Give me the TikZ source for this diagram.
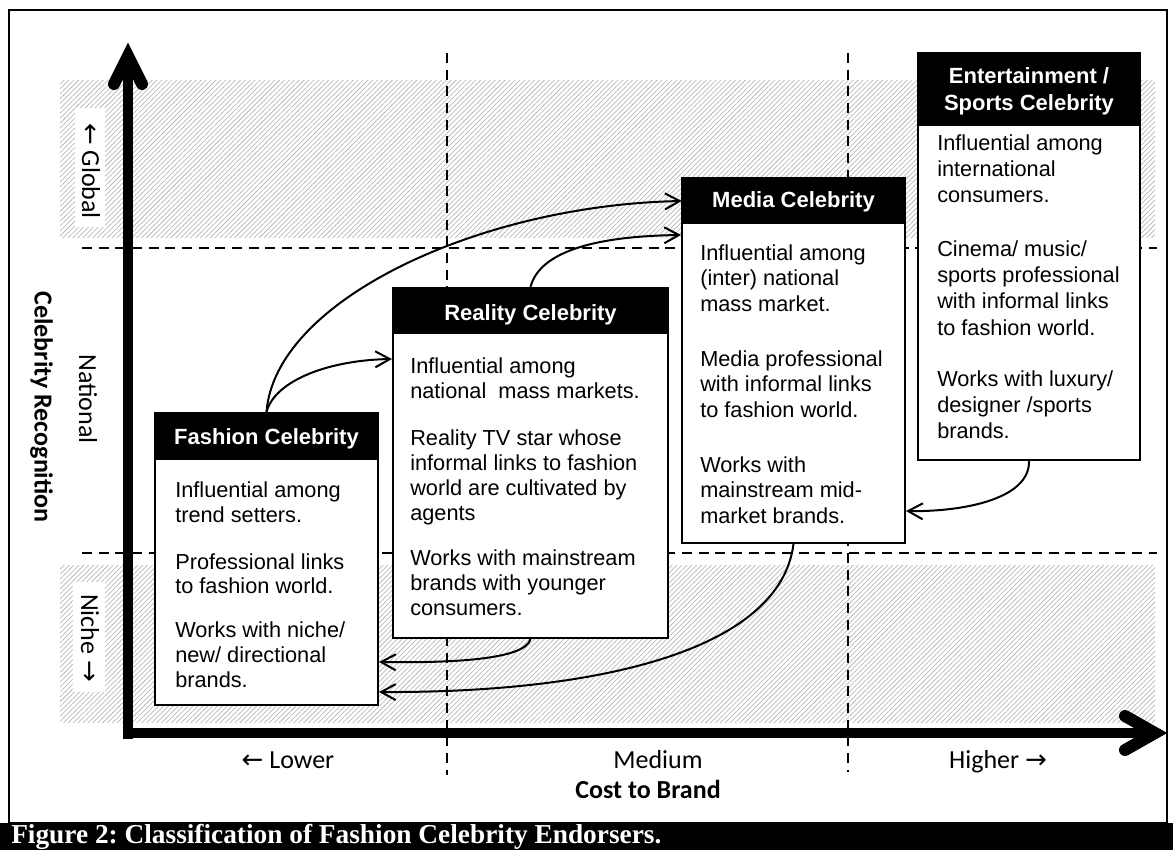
\documentclass[tikz,border=0pt]{standalone}
\usepackage{fontspec}
\setmainfont{Liberation Sans}
\newfontfamily\calfont{Carlito}
\newfontfamily\timesfont{Liberation Serif}
\newfontfamily\arrfont{DejaVu Sans}
\usetikzlibrary{arrows.meta,patterns.meta,fit,calc}
\frenchspacing
\begin{document}
\begin{tikzpicture}[x=0.75pt,y=-0.75pt,
  band/.style={pattern={Lines[angle=45,distance=2.6pt,line width=0.55pt]},pattern color=black!28},
  dline/.style={dash pattern=on 7.5pt off 5pt,line width=1.5pt},
  axisline/.style={line width=7.5pt},
  chev/.style={line width=9pt,line cap=round,line join=miter},
  cbox/.style={draw,line width=1.5pt,fill=white,inner sep=0pt},
  hdr/.style={fill=black,inner sep=0pt},
  htext/.style={text=white,font=\bfseries\fontsize{16.5pt}{20pt}\selectfont,inner sep=0pt},
  body/.style={align=left,inner sep=0pt,anchor=north west},
  link/.style={line width=1.5pt,-{Straight Barb[length=11pt,width=12pt]}},
  axlabel/.style={font=\calfont\fontsize{19.5pt}{23pt}\selectfont,inner sep=0pt},
  axbold/.style={font=\calfont\bfseries\fontsize{19.5pt}{23pt}\selectfont,inner sep=0pt}]
\useasboundingbox (0,0) rectangle (1173,850);

% hatched bands
\path[band] (60,80) rectangle (1155,237);
\path[band] (60,565) rectangle (1155,722);
\fill[white] (75,108) rectangle (105,227);
\fill[white] (73,582) rectangle (105,692);

% frame and caption bar
\draw[line width=1pt] (9,10) rectangle (1167,823);
\fill[black] (0,823) rectangle (1173,850);
\node[anchor=base west,text=white,font=\timesfont\bfseries\fontsize{20.5pt}{24pt}\selectfont,inner sep=0pt] (cap) at (11,843) {Figure 2: Classification of Fashion Celebrity Endorsers.};

% dashed grid
\draw[dline] (82,248) -- (1157,248);
\draw[dline] (82,553) -- (1157,553);
\draw[dline] (447,53) -- (447,775);
\draw[dline] (848,53) -- (848,772);

% axes
\draw[axisline] (128,739) -- (128,56);
\draw[chev] (114,84) -- (128,56) -- (142,84);
\draw[axisline] (123,733) -- (1155,733);
\draw[chev] (1125,716) -- (1155,733) -- (1125,750);

% boxes
\node[cbox,fit={(155,413)(378,705)}] (fash) {};
\node[hdr,fit={(155,413)(378,460)}] (fashH) {};
\node[htext,anchor=base] (fashT) at (266.5,444) {Fashion Celebrity};
\node[body,font=\fontsize{16.3pt}{18.6pt}\selectfont] (fashB) at (175,481.4)
 {Influential among\\trend setters.\\[16.5pt]Professional links\\to fashion world.\\[14.25pt]Works with niche/\\new/ directional\\brands.};

\node[cbox,fit={(393,288)(668,638)}] (real) {};
\node[hdr,fit={(393,288)(668,334)}] (realH) {};
\node[htext,anchor=base] (realT) at (530.5,320) {Reality Celebrity};
\node[body,font=\fontsize{16.3pt}{18.75pt}\selectfont] (realB) at (410,357.4)
 {Influential among\\national\ \ mass markets.\\[16.9pt]Reality TV star whose\\informal links to fashion\\world are cultivated by\\agents\\[15pt]Works with mainstream\\brands with younger\\consumers.};

\node[cbox,fit={(682,178)(905,543)}] (media) {};
\node[hdr,fit={(682,178)(905,224)}] (mediaH) {};
\node[htext,anchor=base] (mediaT) at (793.5,207.3) {Media Celebrity};
\node[body,font=\fontsize{16.3pt}{19pt}\selectfont] (mediaB) at (700,244.4)
 {Influential among\\(inter) national\\mass market.\\[22.5pt]Media professional\\with informal links\\to fashion world.\\[22.5pt]Works with\\mainstream mid-\\market brands.};

\node[cbox,fit={(918,53)(1140,460)}] (ent) {};
\node[hdr,fit={(918,53)(1140,126)}] (entH) {};
\node[htext,align=center,anchor=north,font=\bfseries\fontsize{16.5pt}{20pt}\selectfont] (entT) at (1029,67.7) {Entertainment /\\Sports Celebrity};
\node[body,font=\fontsize{16.3pt}{19.7pt}\selectfont] (entB) at (937,134.4)
 {Influential among\\international\\consumers.\\[20.25pt]Cinema/ music/\\sports professional\\with informal links\\to fashion world.\\[18.6pt]Works with luxury/\\designer /sports\\brands.};

% connectors
\draw[link] (fash.north) .. controls (275,300) and (480,205) .. (mediaH.west);
\draw[link] (fash.north) .. controls (275,380) and (330,360) .. ($(real.north west)+(0,72)$);
\draw[link] (real.north) .. controls (540,250) and (600,236) .. ($(media.north west)+(0,58)$);
\draw[link] (ent.south) .. controls (1030,500) and (960,512) .. ($(media.north east)+(0,334)$);
\draw[link] (media.south) .. controls (780,650) and (600,693) .. ($(fash.north east)+(0,280)$);
\draw[link] (real.south) .. controls (525,660) and (450,663) .. ($(fash.north east)+(0,250)$);

% axis labels
\node[axlabel,anchor=base] (lower) at (288,768) {{\arrfont ←} Lower};
\node[axlabel,anchor=base] (medium) at (658,768) {Medium};
\node[axlabel,anchor=base] (higher) at (998,768) {Higher {\arrfont →}};
\node[axbold,anchor=base] (cost) at (648,798) {Cost to Brand};
\node[axlabel,rotate=-90] (global) at (91,171) {{\arrfont ←} Global};
\node[axlabel,rotate=-90] (niche) at (90,638) {Niche {\arrfont →}};
\node[axlabel,rotate=-90] (national) at (88,399) {National};
\node[axbold,rotate=-90] (recog) at (41.5,407) {Celebrity Recognition};
\end{tikzpicture}
\end{document}
